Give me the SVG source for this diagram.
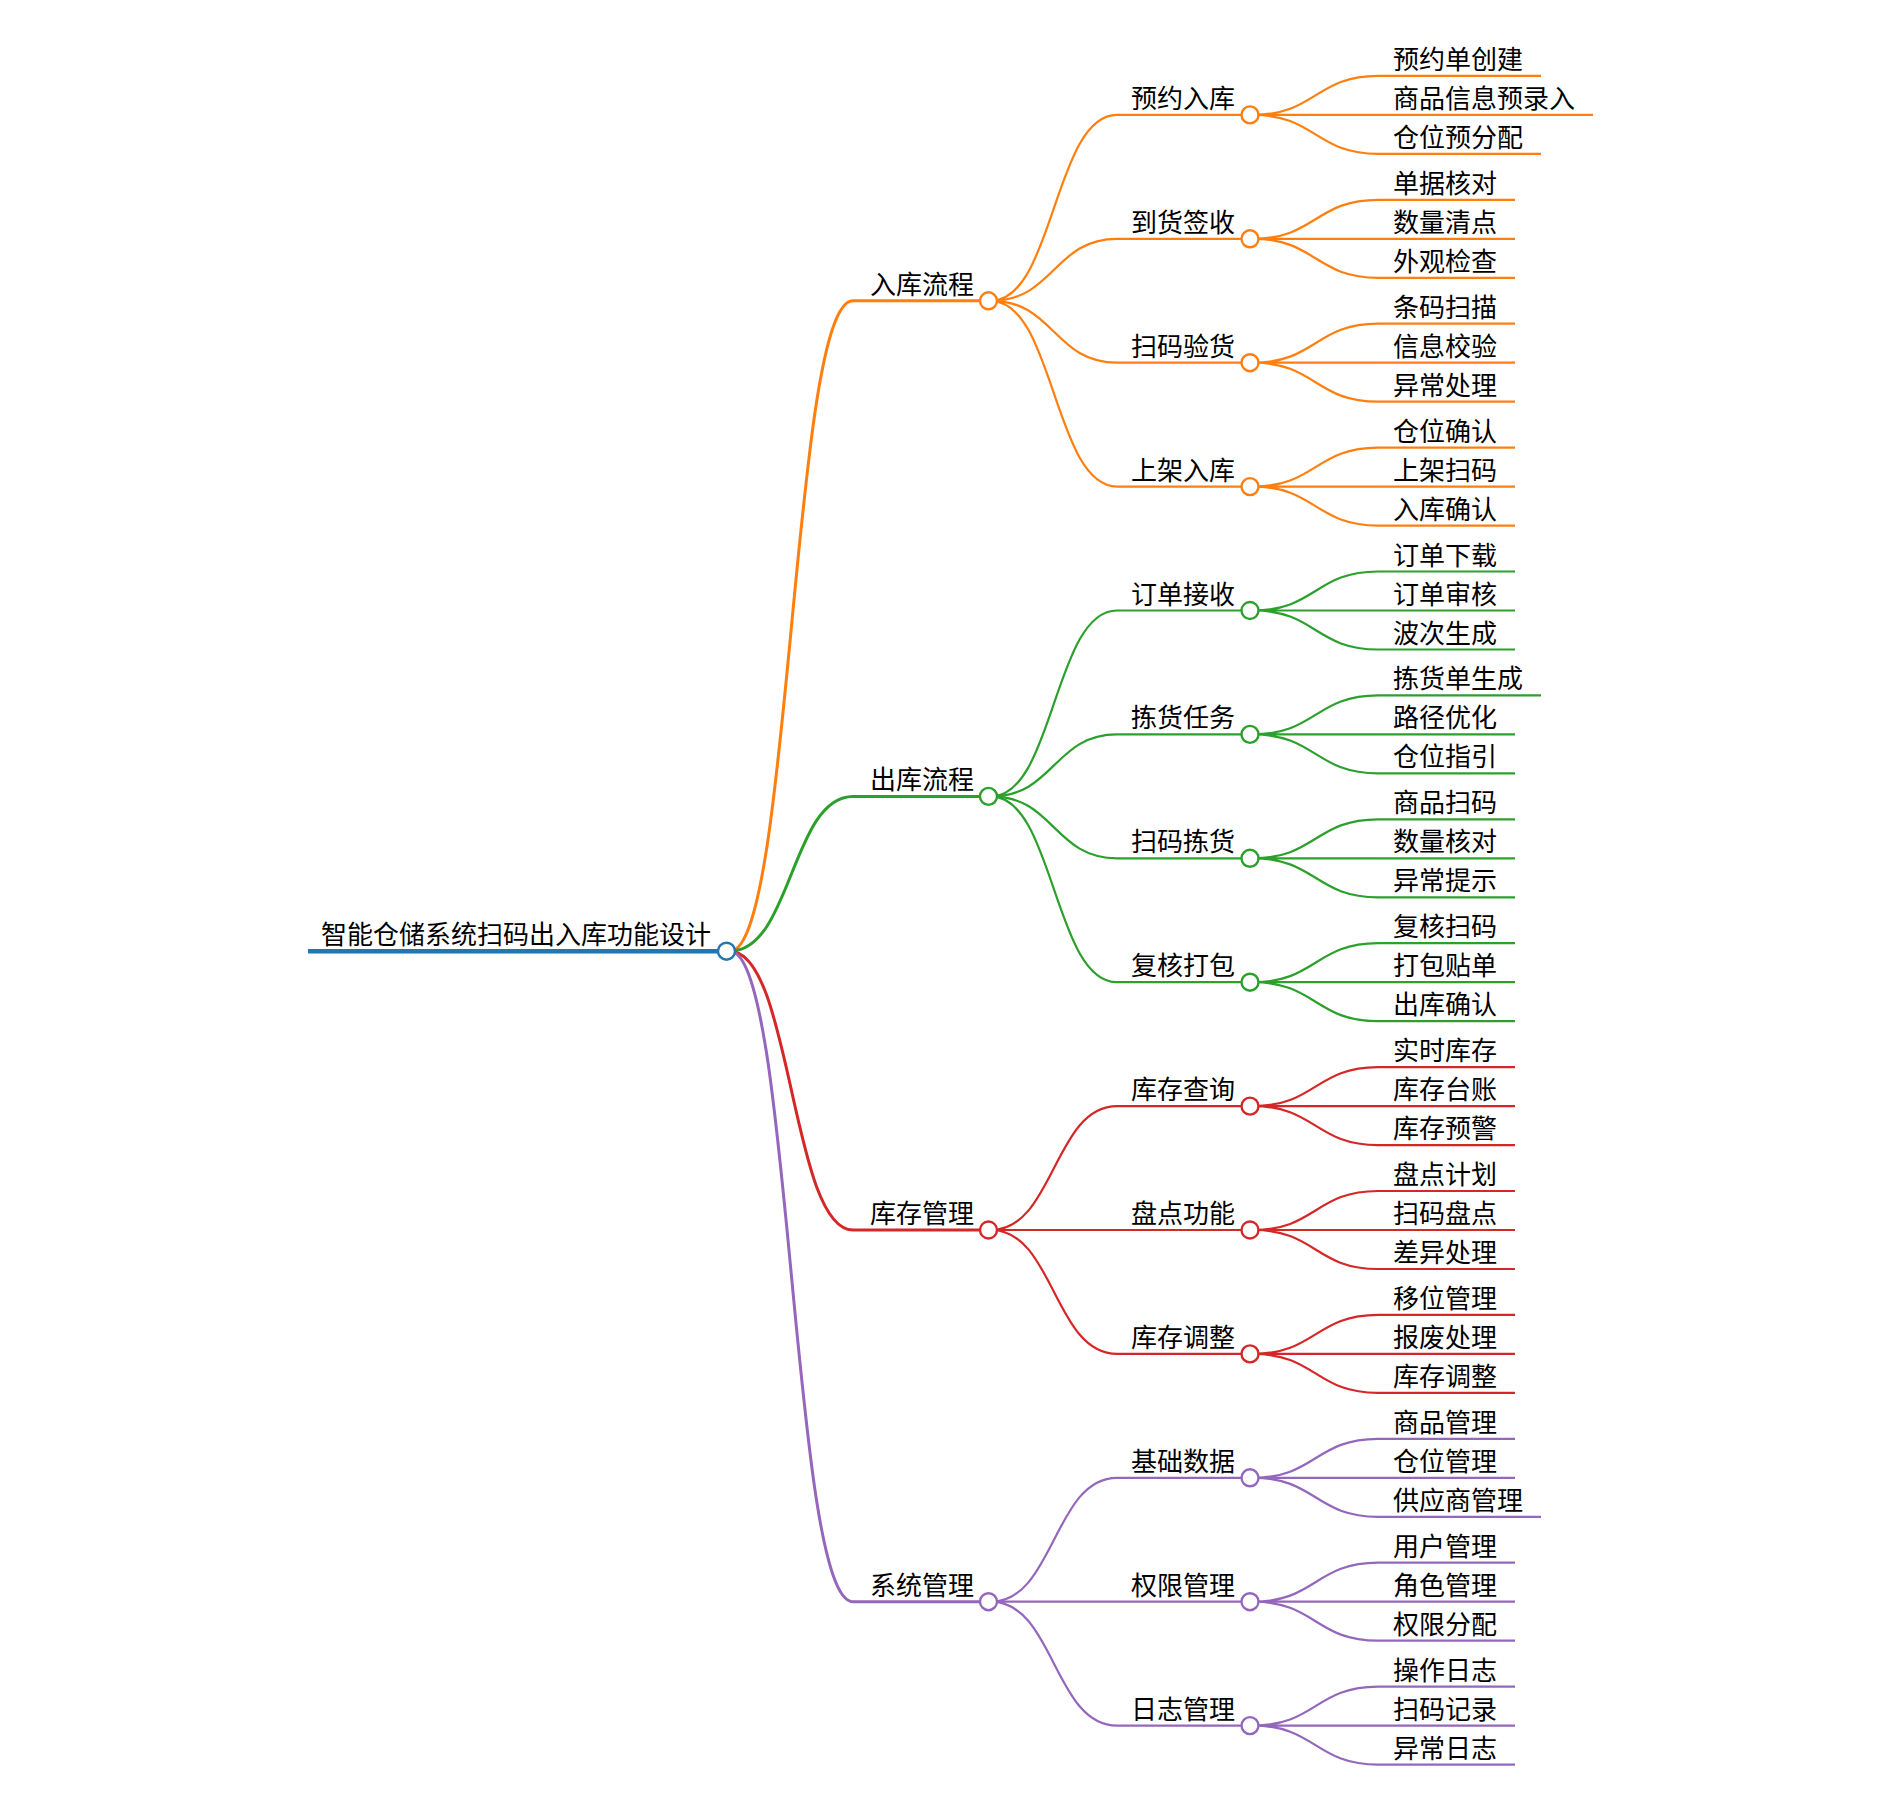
<svg xmlns="http://www.w3.org/2000/svg" width="1899" height="1810" viewBox="0 0 1899 1810">
<style>
.t{font-family:"Noto Sans CJK SC","Noto Sans",sans-serif;font-size:26px;fill:#000}
path{fill:none}
.o{stroke:#ff7f0e}.g{stroke:#2ca02c}.r{stroke:#d62728}.p{stroke:#9467bd}.b{stroke:#1f77b4}
.w1{stroke-width:3}.w2{stroke-width:2.2}
circle{fill:#fff;stroke-width:2.4}
</style>
<rect width="1899" height="1810" fill="#fff"/>
<g id="connectors">
<g class="w1">
<path class="o" d="M730 951.2C791.5 951.2 791.5 300.8 853 300.8"/>
<path class="g" d="M730 951.2C791.5 951.2 791.5 796.4 853 796.4"/>
<path class="r" d="M730 951.2C791.5 951.2 791.5 1230 853 1230"/>
<path class="p" d="M730 951.2C791.5 951.2 791.5 1601.7 853 1601.7"/>
</g>
<g class="w2">
<path class="o" d="M991 300.8C1054 300.8 1054 114.9 1117 114.9"/>
<path class="o" d="M991 300.8C1054 300.8 1054 238.8 1117 238.8"/>
<path class="o" d="M991 300.8C1054 300.8 1054 362.7 1117 362.7"/>
<path class="o" d="M991 300.8C1054 300.8 1054 486.6 1117 486.6"/>
<path class="g" d="M991 796.4C1054 796.4 1054 610.5 1117 610.5"/>
<path class="g" d="M991 796.4C1054 796.4 1054 734.4 1117 734.4"/>
<path class="g" d="M991 796.4C1054 796.4 1054 858.3 1117 858.3"/>
<path class="g" d="M991 796.4C1054 796.4 1054 982.2 1117 982.2"/>
<path class="r" d="M991 1230C1054 1230 1054 1106.1 1117 1106.1"/>
<path class="r" d="M991 1230L1117 1230"/>
<path class="r" d="M991 1230C1054 1230 1054 1353.9 1117 1353.9"/>
<path class="p" d="M991 1601.7C1054 1601.7 1054 1477.8 1117 1477.8"/>
<path class="p" d="M991 1601.7L1117 1601.7"/>
<path class="p" d="M991 1601.7C1054 1601.7 1054 1725.6 1117 1725.6"/>

<path class="o" d="M1253 114.9C1315.5 114.9 1315.5 75.9 1378 75.9M1253 114.9L1378 114.9M1253 114.9C1315.5 114.9 1315.5 153.9 1378 153.9"/>
<path class="o" d="M1253 238.8C1315.5 238.8 1315.5 199.8 1378 199.8M1253 238.8L1378 238.8M1253 238.8C1315.5 238.8 1315.5 277.8 1378 277.8"/>
<path class="o" d="M1253 362.7C1315.5 362.7 1315.5 323.7 1378 323.7M1253 362.7L1378 362.7M1253 362.7C1315.5 362.7 1315.5 401.7 1378 401.7"/>
<path class="o" d="M1253 486.6C1315.5 486.6 1315.5 447.6 1378 447.6M1253 486.6L1378 486.6M1253 486.6C1315.5 486.6 1315.5 525.6 1378 525.6"/>
<path class="g" d="M1253 610.5C1315.5 610.5 1315.5 571.5 1378 571.5M1253 610.5L1378 610.5M1253 610.5C1315.5 610.5 1315.5 649.5 1378 649.5"/>
<path class="g" d="M1253 734.4C1315.5 734.4 1315.5 695.4 1378 695.4M1253 734.4L1378 734.4M1253 734.4C1315.5 734.4 1315.5 773.4 1378 773.4"/>
<path class="g" d="M1253 858.3C1315.5 858.3 1315.5 819.3 1378 819.3M1253 858.3L1378 858.3M1253 858.3C1315.5 858.3 1315.5 897.3 1378 897.3"/>
<path class="g" d="M1253 982.2C1315.5 982.2 1315.5 943.2 1378 943.2M1253 982.2L1378 982.2M1253 982.2C1315.5 982.2 1315.5 1021.2 1378 1021.2"/>
<path class="r" d="M1253 1106.1C1315.5 1106.1 1315.5 1067.1 1378 1067.1M1253 1106.1L1378 1106.1M1253 1106.1C1315.5 1106.1 1315.5 1145.1 1378 1145.1"/>
<path class="r" d="M1253 1230C1315.5 1230 1315.5 1191 1378 1191M1253 1230L1378 1230M1253 1230C1315.5 1230 1315.5 1269 1378 1269"/>
<path class="r" d="M1253 1353.9C1315.5 1353.9 1315.5 1314.9 1378 1314.9M1253 1353.9L1378 1353.9M1253 1353.9C1315.5 1353.9 1315.5 1392.9 1378 1392.9"/>
<path class="p" d="M1253 1477.8C1315.5 1477.8 1315.5 1438.8 1378 1438.8M1253 1477.8L1378 1477.8M1253 1477.8C1315.5 1477.8 1315.5 1516.8 1378 1516.8"/>
<path class="p" d="M1253 1601.7C1315.5 1601.7 1315.5 1562.7 1378 1562.7M1253 1601.7L1378 1601.7M1253 1601.7C1315.5 1601.7 1315.5 1640.7 1378 1640.7"/>
<path class="p" d="M1253 1725.6C1315.5 1725.6 1315.5 1686.6 1378 1686.6M1253 1725.6L1378 1725.6M1253 1725.6C1315.5 1725.6 1315.5 1764.6 1378 1764.6"/>
</g>
</g>

<g id="root"><path class="b" stroke-width="4.5" d="M308 951.2H718"/><circle class="b" cx="726.5" cy="951.2" r="8.5"/><text class="t" x="321" y="944">智能仓储系统扫码出入库功能设计</text></g>

<g id="n-rk"><path class="o w1" d="M853 300.8H980"/><circle class="o" cx="988.5" cy="300.8" r="8.5"/><text class="t" x="870" y="293.8">入库流程</text></g>
<g id="n-ck"><path class="g w1" d="M853 796.4H980"/><circle class="g" cx="988.5" cy="796.4" r="8.5"/><text class="t" x="870" y="789.4">出库流程</text></g>
<g id="n-kc"><path class="r w1" d="M853 1230H980"/><circle class="r" cx="988.5" cy="1230" r="8.5"/><text class="t" x="870" y="1223">库存管理</text></g>
<g id="n-xt"><path class="p w1" d="M853 1601.7H980"/><circle class="p" cx="988.5" cy="1601.7" r="8.5"/><text class="t" x="870" y="1594.7">系统管理</text></g>

<g id="n-yyrk"><path class="o w2" d="M1117 114.9H1242"/><circle class="o" cx="1250" cy="114.9" r="8.5"/><text class="t" x="1131" y="107.9">预约入库</text></g>
<g id="n-dhqs"><path class="o w2" d="M1117 238.8H1242"/><circle class="o" cx="1250" cy="238.8" r="8.5"/><text class="t" x="1131" y="231.8">到货签收</text></g>
<g id="n-smyh"><path class="o w2" d="M1117 362.7H1242"/><circle class="o" cx="1250" cy="362.7" r="8.5"/><text class="t" x="1131" y="355.7">扫码验货</text></g>
<g id="n-sjrk"><path class="o w2" d="M1117 486.6H1242"/><circle class="o" cx="1250" cy="486.6" r="8.5"/><text class="t" x="1131" y="479.6">上架入库</text></g>
<g id="n-ddjs"><path class="g w2" d="M1117 610.5H1242"/><circle class="g" cx="1250" cy="610.5" r="8.5"/><text class="t" x="1131" y="603.5">订单接收</text></g>
<g id="n-jhrw"><path class="g w2" d="M1117 734.4H1242"/><circle class="g" cx="1250" cy="734.4" r="8.5"/><text class="t" x="1131" y="727.4">拣货任务</text></g>
<g id="n-smjh"><path class="g w2" d="M1117 858.3H1242"/><circle class="g" cx="1250" cy="858.3" r="8.5"/><text class="t" x="1131" y="851.3">扫码拣货</text></g>
<g id="n-fhdb"><path class="g w2" d="M1117 982.2H1242"/><circle class="g" cx="1250" cy="982.2" r="8.5"/><text class="t" x="1131" y="975.2">复核打包</text></g>
<g id="n-kccx"><path class="r w2" d="M1117 1106.1H1242"/><circle class="r" cx="1250" cy="1106.1" r="8.5"/><text class="t" x="1131" y="1099.1">库存查询</text></g>
<g id="n-pdgn"><path class="r w2" d="M1117 1230H1242"/><circle class="r" cx="1250" cy="1230" r="8.5"/><text class="t" x="1131" y="1223">盘点功能</text></g>
<g id="n-kctz"><path class="r w2" d="M1117 1353.9H1242"/><circle class="r" cx="1250" cy="1353.9" r="8.5"/><text class="t" x="1131" y="1346.9">库存调整</text></g>
<g id="n-jcsj"><path class="p w2" d="M1117 1477.8H1242"/><circle class="p" cx="1250" cy="1477.8" r="8.5"/><text class="t" x="1131" y="1470.8">基础数据</text></g>
<g id="n-qxgl"><path class="p w2" d="M1117 1601.7H1242"/><circle class="p" cx="1250" cy="1601.7" r="8.5"/><text class="t" x="1131" y="1594.7">权限管理</text></g>
<g id="n-rzgl"><path class="p w2" d="M1117 1725.6H1242"/><circle class="p" cx="1250" cy="1725.6" r="8.5"/><text class="t" x="1131" y="1718.6">日志管理</text></g>

<g id="l-1"><path class="o w2" d="M1378 75.9H1541"/><text class="t" x="1393" y="68.9">预约单创建</text></g>
<g id="l-2"><path class="o w2" d="M1378 114.9H1593"/><text class="t" x="1393" y="107.9">商品信息预录入</text></g>
<g id="l-3"><path class="o w2" d="M1378 153.9H1541"/><text class="t" x="1393" y="146.9">仓位预分配</text></g>
<g id="l-4"><path class="o w2" d="M1378 199.8H1515"/><text class="t" x="1393" y="192.8">单据核对</text></g>
<g id="l-5"><path class="o w2" d="M1378 238.8H1515"/><text class="t" x="1393" y="231.8">数量清点</text></g>
<g id="l-6"><path class="o w2" d="M1378 277.8H1515"/><text class="t" x="1393" y="270.8">外观检查</text></g>
<g id="l-7"><path class="o w2" d="M1378 323.7H1515"/><text class="t" x="1393" y="316.7">条码扫描</text></g>
<g id="l-8"><path class="o w2" d="M1378 362.7H1515"/><text class="t" x="1393" y="355.7">信息校验</text></g>
<g id="l-9"><path class="o w2" d="M1378 401.7H1515"/><text class="t" x="1393" y="394.7">异常处理</text></g>
<g id="l-10"><path class="o w2" d="M1378 447.6H1515"/><text class="t" x="1393" y="440.6">仓位确认</text></g>
<g id="l-11"><path class="o w2" d="M1378 486.6H1515"/><text class="t" x="1393" y="479.6">上架扫码</text></g>
<g id="l-12"><path class="o w2" d="M1378 525.6H1515"/><text class="t" x="1393" y="518.6">入库确认</text></g>
<g id="l-13"><path class="g w2" d="M1378 571.5H1515"/><text class="t" x="1393" y="564.5">订单下载</text></g>
<g id="l-14"><path class="g w2" d="M1378 610.5H1515"/><text class="t" x="1393" y="603.5">订单审核</text></g>
<g id="l-15"><path class="g w2" d="M1378 649.5H1515"/><text class="t" x="1393" y="642.5">波次生成</text></g>
<g id="l-16"><path class="g w2" d="M1378 695.4H1541"/><text class="t" x="1393" y="688.4">拣货单生成</text></g>
<g id="l-17"><path class="g w2" d="M1378 734.4H1515"/><text class="t" x="1393" y="727.4">路径优化</text></g>
<g id="l-18"><path class="g w2" d="M1378 773.4H1515"/><text class="t" x="1393" y="766.4">仓位指引</text></g>
<g id="l-19"><path class="g w2" d="M1378 819.3H1515"/><text class="t" x="1393" y="812.3">商品扫码</text></g>
<g id="l-20"><path class="g w2" d="M1378 858.3H1515"/><text class="t" x="1393" y="851.3">数量核对</text></g>
<g id="l-21"><path class="g w2" d="M1378 897.3H1515"/><text class="t" x="1393" y="890.3">异常提示</text></g>
<g id="l-22"><path class="g w2" d="M1378 943.2H1515"/><text class="t" x="1393" y="936.2">复核扫码</text></g>
<g id="l-23"><path class="g w2" d="M1378 982.2H1515"/><text class="t" x="1393" y="975.2">打包贴单</text></g>
<g id="l-24"><path class="g w2" d="M1378 1021.2H1515"/><text class="t" x="1393" y="1014.2">出库确认</text></g>
<g id="l-25"><path class="r w2" d="M1378 1067.1H1515"/><text class="t" x="1393" y="1060.1">实时库存</text></g>
<g id="l-26"><path class="r w2" d="M1378 1106.1H1515"/><text class="t" x="1393" y="1099.1">库存台账</text></g>
<g id="l-27"><path class="r w2" d="M1378 1145.1H1515"/><text class="t" x="1393" y="1138.1">库存预警</text></g>
<g id="l-28"><path class="r w2" d="M1378 1191H1515"/><text class="t" x="1393" y="1184">盘点计划</text></g>
<g id="l-29"><path class="r w2" d="M1378 1230H1515"/><text class="t" x="1393" y="1223">扫码盘点</text></g>
<g id="l-30"><path class="r w2" d="M1378 1269H1515"/><text class="t" x="1393" y="1262">差异处理</text></g>
<g id="l-31"><path class="r w2" d="M1378 1314.9H1515"/><text class="t" x="1393" y="1307.9">移位管理</text></g>
<g id="l-32"><path class="r w2" d="M1378 1353.9H1515"/><text class="t" x="1393" y="1346.9">报废处理</text></g>
<g id="l-33"><path class="r w2" d="M1378 1392.9H1515"/><text class="t" x="1393" y="1385.9">库存调整</text></g>
<g id="l-34"><path class="p w2" d="M1378 1438.8H1515"/><text class="t" x="1393" y="1431.8">商品管理</text></g>
<g id="l-35"><path class="p w2" d="M1378 1477.8H1515"/><text class="t" x="1393" y="1470.8">仓位管理</text></g>
<g id="l-36"><path class="p w2" d="M1378 1516.8H1541"/><text class="t" x="1393" y="1509.8">供应商管理</text></g>
<g id="l-37"><path class="p w2" d="M1378 1562.7H1515"/><text class="t" x="1393" y="1555.7">用户管理</text></g>
<g id="l-38"><path class="p w2" d="M1378 1601.7H1515"/><text class="t" x="1393" y="1594.7">角色管理</text></g>
<g id="l-39"><path class="p w2" d="M1378 1640.7H1515"/><text class="t" x="1393" y="1633.7">权限分配</text></g>
<g id="l-40"><path class="p w2" d="M1378 1686.6H1515"/><text class="t" x="1393" y="1679.6">操作日志</text></g>
<g id="l-41"><path class="p w2" d="M1378 1725.6H1515"/><text class="t" x="1393" y="1718.6">扫码记录</text></g>
<g id="l-42"><path class="p w2" d="M1378 1764.6H1515"/><text class="t" x="1393" y="1757.6">异常日志</text></g>
</svg>
